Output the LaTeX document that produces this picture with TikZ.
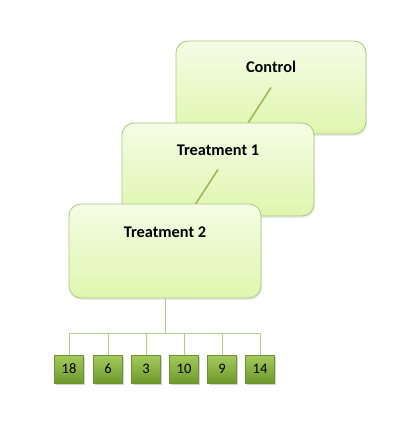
\documentclass[tikz,border=0pt]{standalone}
\usepackage{fontspec}
\setmainfont{Carlito}
\usetikzlibrary{shadows}
\definecolor{boxtop}{HTML}{F5FCE6}
\definecolor{boxbot}{HTML}{DFF6AE}
\definecolor{boxline}{HTML}{A9C97A}
\definecolor{leaftop}{HTML}{A3CB5C}
\definecolor{leafbot}{HTML}{70992C}
\definecolor{leafline}{HTML}{6E9231}
\definecolor{conn}{HTML}{9BBB59}
\definecolor{bus}{HTML}{B5CE86}
\begin{document}
\begin{tikzpicture}[x=1pt,y=-1pt,
  bigbox/.style={draw=boxline, line width=0.8pt, rounded corners=12pt,
    top color=boxtop, bottom color=boxbot, minimum width=190pt, minimum height=93pt,
    inner sep=0pt, drop shadow={shadow xshift=1pt, shadow yshift=-2pt, opacity=0.15}},
  title/.style={anchor=north, yshift=-20pt, inner sep=0pt, font=\bfseries\fontsize{16.3}{18}\selectfont},
  leaf/.style={draw=leafline, line width=0.5pt, top color=leaftop, bottom color=leafbot,
    minimum width=29pt, minimum height=28pt, inner sep=0pt, font=\fontsize{14.5}{16}\selectfont,
    drop shadow={shadow xshift=1.5pt, shadow yshift=-1.5pt, opacity=0.35}},
  diag/.style={draw=conn, line width=1.6pt},
  tree/.style={draw=bus, line width=1pt}]
\useasboundingbox (0,0) rectangle (416,422);
\node[bigbox, label={[title]north:Control}] (c) at (271,87.5) {};
\draw[diag] (c.center) -- (218,169.5) coordinate (t1c);
\node[bigbox, minimum width=192pt, label={[title, yshift=-2pt]north:Treatment 1}] (t1) at (t1c) {};
\draw[diag] (t1.center) -- (165,251) coordinate (t2c);
\node[bigbox, minimum width=192pt, minimum height=94pt, label={[title, yshift=-3pt]north:Treatment 2}] (t2) at (t2c) {};
\coordinate (bus) at (165,333);
\draw[tree] (t2.south) -- (bus);
\foreach \n/\x in {18/69, 6/108, 3/146, 10/184, 9/222, 14/260} {
  \node[leaf] (l\n) at (\x,369) {\n};
  \draw[tree] (l\n.north) |- (bus);
}
\end{tikzpicture}
\end{document}
